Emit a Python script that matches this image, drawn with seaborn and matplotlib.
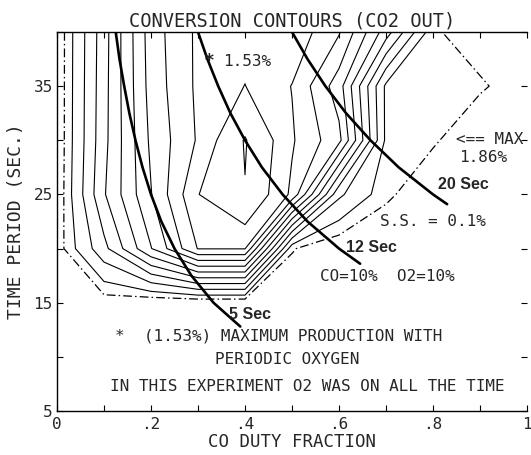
import numpy as np
import pandas as pd
import matplotlib
matplotlib.use("Agg")
import matplotlib.pyplot as plt
import seaborn as sns

# ---- grid: CO duty fraction (x) vs time period in sec (y) ----
duty = [0.0, 0.1, 0.2, 0.3, 0.4, 0.5, 0.6, 0.7, 0.8, 0.9, 1.0]
period = [10, 15, 20, 25, 30, 35, 40]

# CO2 conversion (%), one row per period
conv_p10 = [0.0, 0.0, 0.0, 0.0, 0.0, 0.0, 0.0, 0.0, 0.0, 0.0, 0.0]
conv_p15 = [0.0, 0.034, 0.0, 0.0, 0.0, 0.0, 0.0, 0.0, 0.0, 0.0, 0.0]
conv_p20 = [0.034, 0.482, 1.002, 1.498, 1.498, 0.11, 0.0, 0.0, 0.0, 0.0, 0.0]
conv_p25 = [0.002, 0.674, 1.162, 1.645, 1.842, 1.458, 0.402, 0.122, 0.018, 0.0, 0.0]
conv_p30 = [0.0, 0.642, 1.202, 1.508, 1.864, 1.508, 1.218, 0.178, 0.114, 0.018, 0.0]
conv_p35 = [0.0, 0.634, 1.234, 1.522, 1.653, 1.485, 1.085, 0.178, 0.146, 0.114, 0.042]
conv_p40 = [0.0, 0.626, 1.25, 1.522, 1.586, 1.602, 1.346, 0.77, 0.114, 0.042, 0.0]

ss_level = [0.1]
contour_levels = [0.21, 0.37, 0.53, 0.69, 0.85, 1.01, 1.17, 1.33, 1.49, 1.65, 1.85]

# ---- constant CO on-time curves ----
on5_duty = [0.125, 0.133, 0.143, 0.154, 0.167, 0.182, 0.2, 0.222, 0.25, 0.286, 0.333, 0.39]
on5_period = [40, 37.5, 35, 32.5, 30, 27.5, 25, 22.5, 20, 17.5, 15, 12.8]
on12_duty = [0.3, 0.32, 0.343, 0.369, 0.4, 0.436, 0.48, 0.533, 0.6, 0.645]
on12_period = [40, 37.5, 35, 32.5, 30, 27.5, 25, 22.5, 20, 18.6]
on20_duty = [0.5, 0.533, 0.571, 0.615, 0.667, 0.727, 0.8, 0.83]
on20_period = [40, 37.5, 35, 32.5, 30, 27.5, 25, 24.1]

x_ticks = [0.0, 0.2, 0.4, 0.6, 0.8, 1.0]
x_ticklabels = ["0", ".2", ".4", ".6", ".8", "1"]
x_minor = [0.1, 0.3, 0.5, 0.7, 0.9]
y_ticks = [5, 15, 25, 35]
y_ticklabels = ["5", "15", "25", "35"]
y_minor = [10, 20, 30, 40]

sns.set_theme(style="ticks")
plt.rcParams["font.family"] = ["DejaVu Sans Mono", "DejaVu Sans"]

fig = plt.figure(figsize=(5.31, 4.55), dpi=100)
ax = fig.add_axes([0.1073, 0.0967, 0.8852, 0.833])

Z = np.array([conv_p10, conv_p15, conv_p20, conv_p25, conv_p30, conv_p35, conv_p40])
X, Y = np.meshgrid(duty, period)
ss = ax.contour(X, Y, Z, levels=ss_level, colors="black", linewidths=0.9)
ss.set_linestyle((0, (7, 2.5, 1.2, 2.5)))
ax.contour(X, Y, Z, levels=contour_levels, colors="black", linewidths=0.8)

curves = pd.DataFrame({
    "duty": on5_duty + on12_duty + on20_duty,
    "period": on5_period + on12_period + on20_period,
    "curve": ["5"] * len(on5_duty) + ["12"] * len(on12_duty) + ["20"] * len(on20_duty),
})
sns.lineplot(data=curves, x="duty", y="period", units="curve", estimator=None,
             sort=False, color="black", linewidth=1.9, legend=False, ax=ax)

mono = 11.5
ax.text(0.325, 37.3, "*", fontsize=13, fontweight="bold", ha="center", va="center")
ax.text(0.405, 37.3, "1.53%", fontsize=mono, ha="center", va="center")
ax.text(0.921, 30.1, "<== MAX", fontsize=mono, ha="center", va="center")
ax.text(0.906, 28.4, "1.86%", fontsize=mono, ha="center", va="center")
ax.text(0.80, 22.5, "S.S. = 0.1%", fontsize=mono, ha="center", va="center")
ax.text(0.702, 17.45, "CO=10%  O2=10%", fontsize=mono, ha="center", va="center")
ax.text(0.471, 11.9, "*  (1.53%) MAXIMUM PRODUCTION WITH", fontsize=mono, ha="center", va="center")
ax.text(0.49, 9.8, "PERIODIC OXYGEN", fontsize=mono, ha="center", va="center")
ax.text(0.533, 7.3, "IN THIS EXPERIMENT O2 WAS ON ALL THE TIME", fontsize=mono, ha="center", va="center")

sans_b = dict(family="Liberation Sans", fontweight="bold", fontsize=11.5, ha="center", va="center")
ax.text(0.864, 25.95, "20 Sec", **sans_b)
ax.text(0.668, 20.1, "12 Sec", **sans_b)
ax.text(0.411, 13.95, "5 Sec", **sans_b)

ax.set_xlim(0, 1.0)
ax.set_ylim(5, 40)
ax.set_xticks(x_ticks)
ax.set_xticklabels(x_ticklabels)
ax.set_xticks(x_minor, minor=True)
ax.set_yticks(y_ticks)
ax.set_yticklabels(y_ticklabels)
ax.set_yticks(y_minor, minor=True)
ax.tick_params(which="both", direction="in", top=True, right=True, length=4,
               width=0.8, color="black")
ax.tick_params(axis="x", labelsize=11.5, pad=4)
ax.tick_params(axis="y", labelsize=11.5, pad=3)
for s in ["left", "bottom", "top"]:
    ax.spines[s].set_linewidth(1.0)
    ax.spines[s].set_color("black")
ax.spines["right"].set_visible(False)

ax.set_title("CONVERSION CONTOURS (CO2 OUT)", fontsize=13.5, pad=4)
ax.set_xlabel("CO DUTY FRACTION", fontsize=12.5, labelpad=1)
ax.set_ylabel("TIME PERIOD (SEC.)", fontsize=13, labelpad=6)

fig.savefig("out.png", dpi=100, facecolor="white")
